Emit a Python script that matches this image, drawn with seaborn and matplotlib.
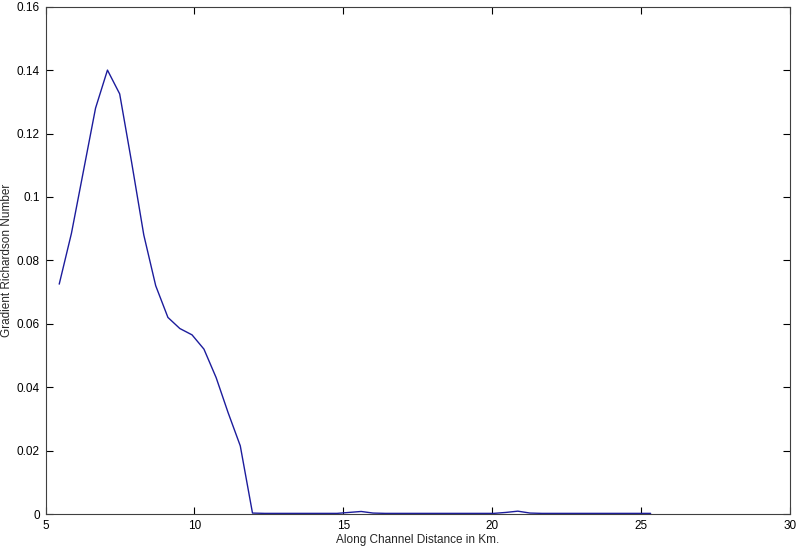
import matplotlib
matplotlib.use("Agg")
import matplotlib.pyplot as plt
import seaborn as sns
import pandas as pd

distance_km = [5.46, 5.87, 6.27, 6.68, 7.08, 7.49, 7.89, 8.30, 8.70, 9.11, 9.51, 9.92,
               10.32, 10.73, 11.13, 11.54, 11.95,
               12.36, 12.76, 13.17, 13.57, 13.98, 14.38, 14.79, 15.19, 15.60, 16.00,
               16.41, 16.81, 17.22, 17.62, 18.03, 18.43, 18.84, 19.24, 19.65, 20.05,
               20.46, 20.86, 21.27, 21.67, 22.08, 22.48, 22.89, 23.29, 23.70, 24.10,
               24.51, 24.91, 25.32]
richardson = [0.0725, 0.0885, 0.108, 0.128, 0.140, 0.1325, 0.111, 0.088, 0.072, 0.062,
              0.0585, 0.0565, 0.052, 0.043, 0.032, 0.0215, 0.0003,
              0.0002, 0.0002, 0.0002, 0.0002, 0.0002, 0.0002, 0.0002, 0.0005, 0.0008, 0.0003,
              0.0002, 0.0002, 0.0002, 0.0002, 0.0002, 0.0002, 0.0002, 0.0002, 0.0002, 0.0002,
              0.0005, 0.0009, 0.0003, 0.0002, 0.0002, 0.0002, 0.0002, 0.0002, 0.0002, 0.0002,
              0.0002, 0.0002, 0.0002]
x_ticks = [5, 10, 15, 20, 25, 30]
y_ticks = [0, 0.02, 0.04, 0.06, 0.08, 0.1, 0.12, 0.14, 0.16]
y_tick_labels = ["0", "0.02", "0.04", "0.06", "0.08", "0.1", "0.12", "0.14", "0.16"]

sns.set_style("white")
plt.rcParams["font.family"] = ["Liberation Sans", "DejaVu Sans"]

df = pd.DataFrame({"x": distance_km, "y": richardson})

fig = plt.figure(figsize=(8, 5.47), dpi=100)
ax = fig.add_axes([0.0569, 0.0603, 0.9306, 0.9275])
sns.lineplot(data=df, x="x", y="y", ax=ax, color="#1c1c9c", linewidth=1.0)

ax.set_xlim(5, 30)
ax.set_ylim(0, 0.16)
ax.set_xticks(x_ticks)
ax.set_xticklabels([str(t) for t in x_ticks])
ax.set_yticks(y_ticks)
ax.set_yticklabels(y_tick_labels)
ax.tick_params(direction="in", length=5, width=0.8, labelsize=8.5, colors="black",
               top=True, right=True, bottom=True, left=True, pad=4)
for s in ax.spines.values():
    s.set_visible(True)
    s.set_color("#404040")
    s.set_linewidth(0.8)
ax.set_xlabel("Along Channel Distance in Km.", fontsize=8.5, labelpad=2)
ax.set_ylabel("Gradient Richardson Number", fontsize=8.5)
ax.yaxis.set_label_coords(-0.0436, 0.5)
ax.grid(False)

fig.savefig("out.png", dpi=100)
